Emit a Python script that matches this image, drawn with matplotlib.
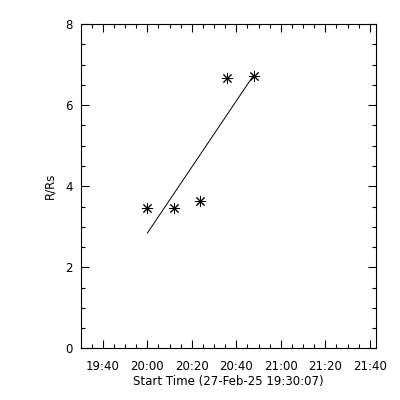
import numpy as np
import matplotlib
matplotlib.use("Agg")
import matplotlib.pyplot as plt
from matplotlib.ticker import MultipleLocator, FuncFormatter

# Data
start_time = "19:30:07"
end_time = "21:42:35"
obs_times = ["20:00:05", "20:11:55", "20:23:50", "20:35:55", "20:47:45"]
r_rs = [3.46, 3.46, 3.64, 6.68, 6.71]
y_ticks = [0, 2, 4, 6, 8]
x_label = "Start Time (27-Feb-25 19:30:07)"
y_label = "R/Rs"


def to_min(s):
    h, m, sec = (int(v) for v in s.split(":"))
    return h * 60 + m + sec / 60.0


t = np.array([to_min(s) for s in obs_times])
r = np.array(r_rs)
coef = np.polyfit(t, r, 1)
fit = np.polyval(coef, t)

plt.rcParams["font.family"] = "DejaVu Sans"
fig = plt.figure(figsize=(4, 4), dpi=100)
ax = fig.add_axes([0.2018, 0.1290, 0.7372, 0.8108])

ax.plot(t, fit, color="black", lw=0.7)
ax.plot(t, r, linestyle="none", marker=(8, 2, 0), markersize=8,
        markeredgewidth=0.7, color="black")

ax.set_xlim(to_min(start_time), to_min(end_time))
ax.set_ylim(0, 8)
ax.set_yticks(y_ticks)
ax.xaxis.set_major_locator(MultipleLocator(20))
ax.xaxis.set_minor_locator(MultipleLocator(5))
ax.yaxis.set_minor_locator(MultipleLocator(0.5))
ax.xaxis.set_major_formatter(FuncFormatter(
    lambda v, p: "%02d:%02d" % (int(round(v)) // 60, int(round(v)) % 60)))
ax.yaxis.set_major_formatter(FuncFormatter(lambda v, p: "%d" % v))

ax.tick_params(which="both", direction="in", top=True, right=True,
               width=0.8, labelsize=8.5, color="black")
ax.tick_params(axis="x", which="major", length=6, pad=8)
ax.tick_params(axis="y", which="major", length=6, pad=6)
ax.tick_params(which="minor", length=3)
for sp in ax.spines.values():
    sp.set_linewidth(0.8)

ax.set_xlabel(x_label, fontsize=8.5, labelpad=2)
ax.set_ylabel(y_label, fontsize=8.5, labelpad=6)

fig.savefig("out.png", dpi=100, facecolor="white")
